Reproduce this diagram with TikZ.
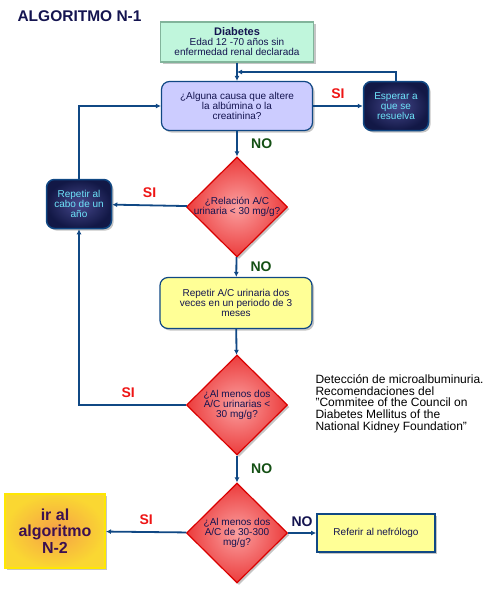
\documentclass[tikz,border=0pt]{standalone}
\usepackage{fontspec}
\setmainfont{Liberation Sans}
\usetikzlibrary{arrows.meta}
\usetikzlibrary{shapes.geometric, shadows}

\definecolor{azullinea}{RGB}{16,72,132}
\definecolor{azultitulo}{RGB}{20,20,80}
\definecolor{menta}{RGB}{192,246,220}
\definecolor{bordementa}{RGB}{130,180,155}
\definecolor{lila}{RGB}{204,204,255}
\definecolor{amarillo}{RGB}{255,255,150}
\definecolor{rojo}{RGB}{236,60,60}
\definecolor{rojoclaro}{RGB}{250,160,160}
\definecolor{rojosi}{RGB}{238,20,20}
\definecolor{verdeno}{RGB}{20,80,20}
\definecolor{noche}{RGB}{18,24,70}
\definecolor{nochemedia}{RGB}{70,72,140}
\definecolor{cian}{RGB}{110,228,250}
\definecolor{naranja}{RGB}{245,160,70}
\definecolor{oro}{RGB}{250,215,50}
\definecolor{morado}{RGB}{60,16,80}

\begin{document}
\begin{tikzpicture}[x=1pt,y=-1pt]
\tikzset{font=\fontsize{10}{10}\selectfont}
\tikzset{sombra/.style={drop shadow={shadow xshift=2pt, shadow yshift=-2pt, fill=black!45}}}
\tikzset{caja/.style={align=center, inner sep=2pt, sombra}}
\tikzset{cajaverde/.style={caja, fill=menta, draw=bordementa, line width=1.2pt, minimum width=153pt, minimum height=40pt, text=azultitulo}}
\tikzset{cajalila/.style={caja, fill=lila, draw=azullinea, line width=1.2pt, rounded corners=8pt, minimum width=151pt, minimum height=49pt, text=azultitulo}}
\tikzset{cajaoscura/.style={caja, shading=radial, inner color=nochemedia, outer color=noche, draw=azullinea, line width=1.5pt, rounded corners=8pt, minimum width=65pt, minimum height=49pt, text=cian}}
\tikzset{cajaamarilla/.style={caja, fill=amarillo, draw=azullinea, line width=1.2pt, rounded corners=8pt, minimum width=152pt, minimum height=51pt, text=azultitulo}}
\tikzset{cajareferir/.style={caja, fill=amarillo, draw=azullinea, line width=1.8pt, minimum width=118pt, minimum height=38pt, text=azultitulo}}
\tikzset{cajaN2/.style={caja, shading=radial, inner color=naranja, outer color=oro, draw=yellow!90!orange, line width=2pt, minimum width=100pt, minimum height=74pt, text=morado, font=\bfseries\fontsize{16}{16.5}\selectfont}}
\tikzset{rombo/.style={diamond, aspect=1, inner sep=0pt, minimum width=101pt, minimum height=100pt, shading=radial, inner color=rojoclaro, outer color=rojo, draw=red!85!black, line width=1.2pt, sombra}}
\tikzset{texto rombo/.style={align=center, text=azultitulo, font=\fontsize{10}{10}\selectfont}}
\tikzset{flecha/.style={draw=azullinea, line width=1.8pt, -{Latex[length=5pt,width=5pt]}}}
\tikzset{si/.style={text=rojosi, font=\bfseries\fontsize{14}{14}\selectfont}}
\tikzset{no/.style={text=verdeno, font=\bfseries\fontsize{14}{14}\selectfont}}
\tikzset{nonavy/.style={text=azultitulo, font=\bfseries\fontsize{14}{14}\selectfont}}

\useasboundingbox (0,0) rectangle (500,600);

% cajas y preguntas
\node[anchor=west, text=azultitulo, font=\bfseries\fontsize{15.5}{16}\selectfont] (titulo) at (14,16) {ALGORITMO N-1};
\node[cajaverde] (diabetes) at (237,42) {{\bfseries\fontsize{11}{11}\selectfont Diabetes}\\Edad 12 -70 años sin\\enfermedad renal declarada};
\node[cajalila] (causa) at (237,106) {¿Alguna causa que altere\\la albúmina o la\\creatinina?};
\node[cajaoscura] (esperar) at (396,106) {Esperar a\\que se\\resuelva};
\node[rombo, label={[texto rombo]center:¿Relación A/C\\urinaria < 30 mg/g?}] (relacion) at (237,207) {};
\node[cajaoscura] (repetir) at (79,204) {Repetir al\\cabo de un\\año};
\node[cajaamarilla] (repetirAC) at (236,303) {Repetir A/C urinaria dos\\veces en un periodo de 3\\meses};
\node[rombo, label={[texto rombo]center:¿Al menos dos\\A/C urinarias <\\30 mg/g?}] (almenos) at (237,405) {};
\node[rombo, label={[texto rombo]center:¿Al menos dos\\A/C de 30-300\\mg/g?}] (rango) at (237,533) {};
\node[cajaN2] (algoritmo) at (55,531) {ir al\\algoritmo\\N-2};
\node[cajareferir] (referir) at (376,533) {Referir al nefrólogo};
\node[anchor=north west, align=left, font=\fontsize{12}{11.7}\selectfont] (nota) at (312,371) {Detección de microalbuminuria.\\Recomendaciones del\\"Commitee of the Council on\\Diabetes Mellitus of the\\National Kidney Foundation"};
\coordinate (retorno) at (237,72);

% conexiones
\draw[flecha] (diabetes) -- (causa);
\draw[flecha] (causa) -- node[si, above=3pt] {SI} (esperar);
\draw[flecha] (esperar.north) |- (retorno);
\draw[flecha] (causa) -- node[no, right=10pt] {NO} (relacion);
\draw[flecha] (relacion) -- node[si, above=3pt] {SI} (repetir);
\draw[flecha] (repetir.north) |- (causa.west);
\draw[flecha] (relacion) -- node[no, right=10pt] {NO} (repetirAC);
\draw[flecha] (repetirAC) -- (almenos);
\draw[flecha] (almenos.west) -| node[si, above=3pt, pos=0.27] {SI} (repetir.south);
\draw[flecha] (almenos) -- node[no, right=10pt] {NO} (rango);
\draw[flecha] (rango) -- node[si, above=3pt] {SI} (algoritmo);
\draw[flecha] (rango) -- node[nonavy, above=2pt] {NO} (referir);

\end{tikzpicture}
\end{document}
